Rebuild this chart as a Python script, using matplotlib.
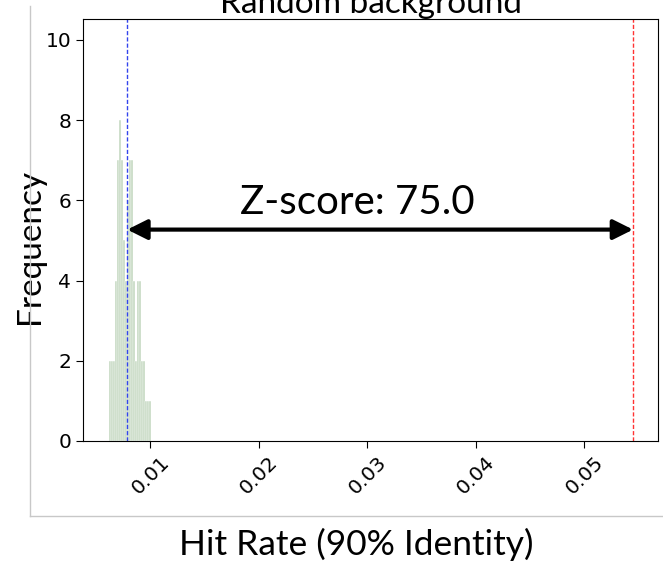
import matplotlib
matplotlib.use("Agg")
import matplotlib.pyplot as plt
from matplotlib.lines import Line2D
import numpy as np

# hit rates of the random background runs, binned
bin_edges = np.linspace(0.0062, 0.01007, 22)
bin_counts = [2, 2, 2, 4, 7, 8, 7, 5, 4, 6, 7, 7, 4, 2, 4, 4, 2, 2, 1, 1, 1]

background_mean = 0.00788
observed_rate = 0.0545
z_score = 75.0

label_font = ["Lato", "DejaVu Sans"]

fig = plt.figure(figsize=(6.63, 5.64), dpi=100)
ax = fig.add_axes([0.1252, 0.2181, 0.8673, 0.7482])

centers = (bin_edges[:-1] + bin_edges[1:]) / 2
ax.hist(centers, bins=bin_edges, weights=bin_counts, color="#c3d7bf",
        edgecolor="white", linewidth=0.3)

ax.axvline(background_mean, color="#3344ee", linestyle=(0, (3, 1.5)), linewidth=1)
ax.axvline(observed_rate, color="#ff3333", linestyle=(0, (3, 1.5)), linewidth=1)

ax.annotate("", xy=(background_mean, 5.27), xytext=(observed_rate, 5.27),
            arrowprops=dict(arrowstyle="<|-|>", color="black", lw=3,
                            mutation_scale=30, shrinkA=0, shrinkB=0))
ax.text(0.0291, 5.65, "Z-score: %.1f" % z_score, ha="center", va="baseline",
        fontsize=29, family=label_font)

ax.set_xlim(0.0038, 0.0568)
ax.set_ylim(0, 10.52)
ax.set_yticks([0, 2, 4, 6, 8, 10])
ax.set_xticks([0.01, 0.02, 0.03, 0.04, 0.05])
ax.tick_params(labelsize=14.5, length=5)
plt.setp(ax.get_xticklabels(), rotation=45)

ax.set_title("Random background", fontsize=24, family=label_font, pad=4)
ax.set_xlabel("Hit Rate (90% Identity)", fontsize=25.5, family=label_font)
ax.xaxis.set_label_coords(0.475, -0.246)
ax.xaxis.label.set_va("center")
ax.set_ylabel("Frequency", fontsize=24, family=label_font)
ax.yaxis.set_label_coords(-0.066, 0.46)

# light panel frame around the plot
fig.add_artist(Line2D([30 / 663, 30 / 663], [1 - 6 / 564, 1 - 516 / 564],
                      transform=fig.transFigure, color="#c8c8c8", lw=1))
fig.add_artist(Line2D([30 / 663, 1.0], [1 - 516 / 564, 1 - 516 / 564],
                      transform=fig.transFigure, color="#c8c8c8", lw=1))

fig.savefig("out.png", dpi=100)
